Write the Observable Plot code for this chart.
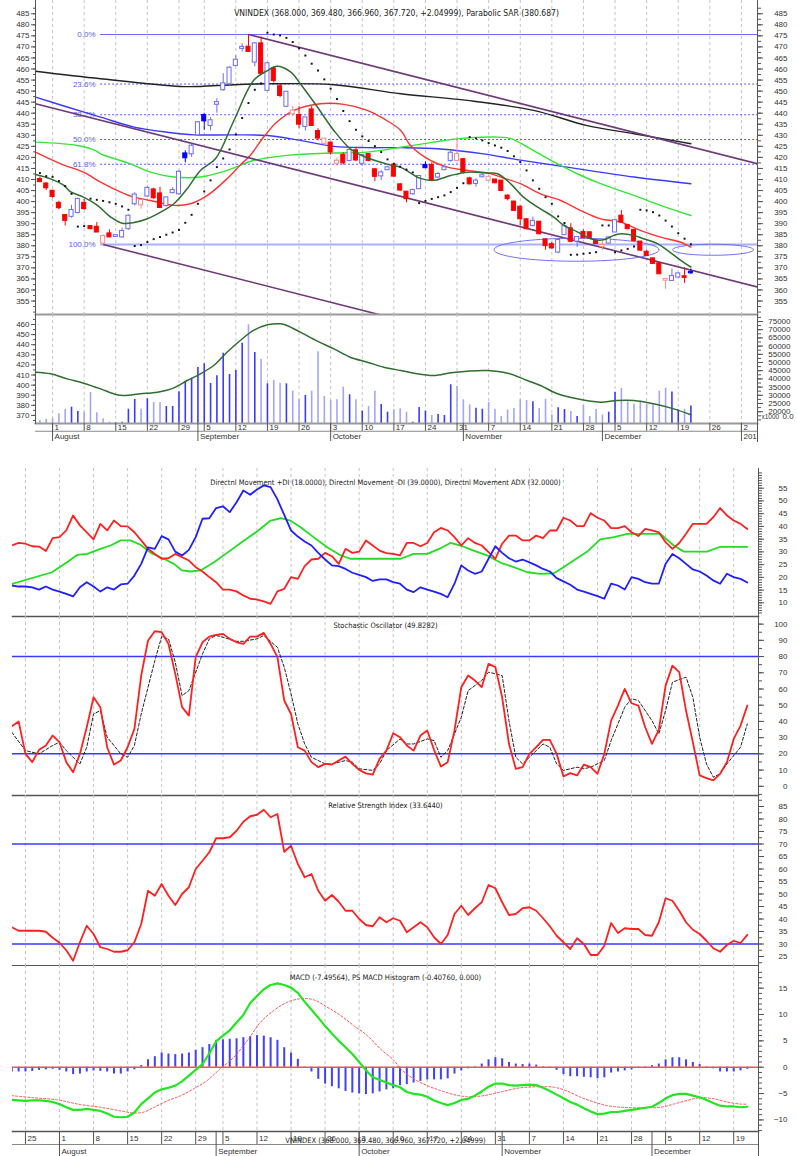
<!DOCTYPE html>
<html><head><meta charset="utf-8">
<script src="https://cdn.jsdelivr.net/npm/d3@7"></script>
<script src="https://cdn.jsdelivr.net/npm/@observablehq/plot@0.6"></script>
<style>
body{margin:0;background:#fff;}
#wrap{position:relative;width:797px;height:1156px;overflow:hidden;background:#fff;}
#wrap svg{position:absolute;left:0;}
</style></head><body><div id="wrap"></div>
<script>
// ---------- calendar (trading days, Vietnam 2011) ----------
const calStart = new Date(2011, 6, 21), calEnd = new Date(2012, 0, 6);
const holidays = ["2011-09-02"];
const fmtKey = d3.timeFormat("%Y-%m-%d");
const tradingDays = [];
for (let t = new Date(calStart); t <= calEnd; t.setDate(t.getDate() + 1)) {
  const wd = t.getDay();
  if (wd === 0 || wd === 6 || holidays.includes(fmtKey(t))) continue;
  tradingDays.push(new Date(t));
}
const weekTicks = tradingDays.map((t, d) => ({d, t})).filter(o => o.d > 0 && o.t.getDay() < tradingDays[o.d - 1].getDay())
  .map(o => ({d: o.d, label: String(o.t.getDate())}));
const monthTicks = tradingDays.map((t, d) => ({d, t})).filter(o => o.d > 0 && o.t.getMonth() !== tradingDays[o.d - 1].getMonth())
  .map(o => ({d: o.d, label: o.t.getMonth() === 0 ? String(o.t.getFullYear()) : d3.timeFormat("%B")(o.t)}));

// ---------- price data (first candle = Jul 28, 2011 = trading day 5) ----------
const firstCandleDay = 5;
const priceOpen = [410,408,404.7,399.2,393.7,393.3,395,399.2,388.7,388.4,381.2,385.4,384.2,384,387.7,399,398.5,402.5,405.3,403.5,398.2,404,403.5,421.6,421.6,430.2,439,434.4,444,450.6,453.3,461.6,469.3,469.9,463.1,471.4,450.3,460.1,452,443.1,439.7,439,434,441.5,431.7,426.2,426.5,417.3,421,418.6,423,417.3,421.3,414.4,411.6,414.4,416.5,407.6,404.3,403.5,405.8,416.4,416.4,411.1,414.4,418.6,418.6,419,410.3,408.2,411.2,409.6,409.8,409.3,402.5,399.8,397.5,391.8,389.2,390.7,382.7,380.5,377.1,385,387.7,382.1,386,385.9,382,379.6,381.2,386.2,393.4,389.2,387,381.7,377.1,374.1,371.9,364.4,364.3,365.8,366,368];
const priceHigh = [411,408.5,405,400.2,394,398.3,401.5,401,389,390.5,385,387.2,385,388,394,404,401,407,406,406.5,402,406.2,414,423,426,436,440,438,446.5,457.9,461,466,471.4,475.6,472,474.5,463,461,453,449.8,443,443,438,443,433,428.5,427,419.8,422,423.5,424.5,421,421.5,415,414,416,416.8,408,404.5,405.7,411.8,418,417.5,413.3,415.8,423,429,419.2,411,410.3,412.6,411.6,410,409.5,403,400.2,398,392.3,393,391,383,381.5,382.6,390,390,384,387.2,386.3,382.5,382.2,383.8,391.6,396,389.5,387.4,382,378.1,374.4,372.2,365,369.5,367.6,370,369.48];
const priceLow = [408.5,405,401.5,396.3,389,392.5,394.5,396,387.2,386,380.6,383.6,384,383.5,387,398,396.5,402,401,396.8,397.5,403.5,403,417.5,420,430,432.2,432,440,450,452,461,467.7,467.5,461,457,450,453.7,447,442.5,438.5,433,432,434,427.5,425.4,421,416,416.5,418,418,416,418,409,409.5,414,411,404.5,399.5,402.8,405.5,415,409.3,410.3,414,417.8,418,412.5,407.5,406.6,410.8,409.3,408,404.5,400.3,395.5,389,387.3,388.5,385,378,378.5,376.4,384.6,381.8,379.2,383.4,383.3,380.7,377.7,380.8,386,390.4,387.4,382,377.6,375.2,371.6,367,360.3,364,365.5,363,366.96];
const priceClose = [409,406.2,402.3,397.2,391.5,396,401,396.8,387.7,386.2,384.2,384,384.6,386.5,393.4,403,400.5,406,401.7,397.3,401.7,405,413.3,419.8,425.1,435.7,436.5,436.6,444.8,453.3,460.4,464,469.8,467.9,471.4,458,462.4,454.8,448,449.5,441,435,437.9,434.4,428.7,428.3,422.4,418.3,417.5,423.2,418.8,420.9,418.6,411.4,413,415.3,411.5,405.2,401.3,405,411.4,415.3,409.6,412.3,415.3,421.9,421.3,413.3,408,409.3,411.7,411,408.5,405,401.3,396,392.2,387.7,391.1,385.4,380.1,379,382.4,388.7,382,383.8,383.6,383.5,381,380.2,383.6,391.4,390.7,387.7,382.4,378,375.6,372,367.3,364.8,366.1,367.3,365.67,367.72];
const parabolicSar = [412.9,411.5,411.2,409.3,407,403.5,388.7,388.9,401.3,400.8,400.3,399.7,399,397.8,396.3,379.9,380.3,381.7,383,384,385,386,387.2,390.4,394,399,404.6,409.6,415.6,419.5,423.6,430.4,437.8,444.6,450.6,453.5,476.4,475.6,475.2,474.1,472.2,469.4,466.1,462.4,459.3,455.3,451.1,446.4,441,436.4,432.5,429.5,427.4,425.1,422.4,419.1,417.1,415.8,414.5,413.2,399.3,400.3,401.2,402,402.8,404.3,406.2,408.3,429.2,428.6,427.7,426.5,425.4,424.4,422.9,420.5,417.9,414.1,409.6,405.8,402,399,393.3,390.3,375.9,376,376.4,376.7,377.1,389.2,389.2,377.1,377.9,378.6,379.7,396.3,396,395.2,393.7,391.4,388.7,385.7,383.2,380.687];
const volume = [14600,15400,15850,18700,21340,22740,20120,19700,31700,19300,15670,13600,13300,13600,21500,27440,21500,27870,25600,25430,23170,23170,32130,38600,40430,46950,49200,37200,41900,55670,42680,45120,61770,73000,56100,51830,37000,39000,37380,37000,32500,27260,29900,32500,56500,29270,26830,27260,34940,30300,27260,20300,23170,32500,24400,19700,21150,21750,19700,13500,22560,20300,17680,18300,17680,36400,35370,27260,24200,22130,21500,25600,21500,17070,20900,21950,27260,26830,26000,21950,27500,18100,22350,21340,20120,17070,23960,17070,21340,18000,19700,31900,34150,26000,24570,26400,24570,24200,32500,34350,32000,21150,21500,23400];

// moving averages: [trading day, value]
const maShort = [[4.3,412.3],[6.7,410.3],[8.8,407.3],[9.8,404.5],[11.9,402],[14.1,398.3],[16.2,393],[18,390.2],[19.9,390.5],[22,392.2],[24.1,395.2],[26.2,399],[28.3,405.8],[30.4,414.1],[32.8,419.5],[35.7,436.7],[38.8,454.8],[41,459.3],[42.5,461.2],[44.7,458.6],[46.2,453.3],[48.9,442.8],[51.5,432.2],[54.1,423.9],[56.2,420.5],[60.5,416.5],[62.1,415.5],[65.2,410.5],[67.3,409.6],[70,411.8],[72.7,413.3],[75.8,412.9],[77.4,412.6],[79.5,408],[81.5,402],[84.2,396.7],[86.3,393],[87.9,389.2],[90.1,386.2],[92.1,383.2],[94.2,382.7],[95.8,384.7],[96.9,385.4],[98.9,384.7],[100.5,383.2],[102.7,381],[104.3,377.9],[106.4,373.4],[108,370.4]];
const maMid = [[4.3,422.4],[8.3,417.1],[11.9,413.3],[14.6,408.8],[17.8,404.3],[19.9,402],[22.5,400.5],[26.2,398.3],[28.8,399],[31.5,402.8],[34.6,410.3],[36.7,416.5],[38.3,421],[40.4,429.2],[42.5,436],[45.2,441.3],[49.4,444.3],[53.1,444],[56.8,441.3],[59.4,437.5],[62.1,432.2],[63.6,425.5],[66.8,418.6],[69.5,415.6],[72.7,414.1],[75.8,413],[77.9,411.1],[81,408.1],[84.2,403.5],[87.4,400.5],[90.5,396],[93.7,392.2],[96.9,390.7],[100,387],[103.2,383.9],[106.4,381.6],[108,379.4]];
const maLong = [[4.3,426.9],[10.9,425.4],[13.8,423.1],[14.6,421.6],[19.3,417.1],[22.5,413.3],[26.2,411.1],[30.4,411.1],[34.6,414.1],[38.8,418.6],[44.1,420.9],[51.5,422],[56.8,422.4],[62.1,424.6],[67.3,426.9],[71,428.4],[76.8,429.2],[79.5,428.5],[83.1,423.1],[86.9,417.1],[90,412.6],[93.7,408.1],[99,402.8],[103.2,398.3],[108,393.7]];
const maLonger = [[4.3,447.3],[9.3,442.8],[14.6,438.2],[19.9,433.7],[25.1,431.4],[29.4,430.2],[35.7,430.2],[41,429.9],[46.2,427.7],[51.5,425],[56.8,424.4],[62.1,424.4],[68.4,423.8],[75.2,421.6],[80.5,419],[88.4,415.6],[99,411.1],[108,408.1]];
const maLongest = [[4.3,459],[14.6,455.6],[27.2,452.1],[30.4,452.1],[35.7,452.9],[41,453.3],[51.5,452.9],[62.1,448.8],[72.6,445.8],[83.1,441.3],[91.6,434.4],[99,430.7],[108,426.2]];
const volPanelLine = [[4.3,412.8],[6.7,411.2],[9.3,406.2],[11.9,401.9],[14.6,396.3],[17,390.7],[18.3,389.7],[20.9,391.4],[23.6,393],[26.2,397.3],[28.3,404.6],[30.4,411.2],[32.5,419.4],[34.6,432.6],[36.7,444.2],[38.8,454.1],[41,459.7],[43.1,460.7],[44.1,459],[46.2,452.4],[48.9,443.5],[51.5,435.9],[54.1,427.6],[56.8,422.7],[59.4,417.7],[62.1,414.5],[64.2,411.8],[67.3,409.5],[70,412.2],[72.6,413.8],[75.8,414.5],[79,411.8],[82.1,404.6],[84.2,399.6],[86.9,391.4],[90,386.4],[93.7,383.1],[96.3,384.8],[99,384.8],[102.1,381.5],[105.3,376.5],[108,370.6]];

// analyst annotations
const fibHigh = 475.6, fibLow = 380.6, fibStartDay = 14.6;
const fibPercents = [0, 23.6, 38.2, 50, 61.8, 100];
const channelLines = [
  {d1: 38, v1: 475.6, d2: 118.6, v2: 417.1},
  {d1: 4.3, v1: 444.3, d2: 118.6, v2: 361.3},
  {d1: 15, v1: 380.6, d2: 60, v2: 347.9}
];
const ellipses = [{d: 89.9, v: 378.2, rd: 13.05, rv: 5.2}, {d: 111.5, v: 378.2, rd: 6.4, rv: 2.5}];

// ---------- indicator data (trading day 0 = Jul 21, 2011) ----------
const diPlus = [16.8,16.4,16.4,16.1,15.2,16.4,15.2,14.4,13.5,12.5,16.1,18.1,16.4,14.4,16.1,15.2,17.2,17.5,20.7,25.3,31.8,31.2,36.2,34.9,30.1,28.6,30.8,35.8,43,43.2,47.2,47.9,45.6,49.5,54.1,52.4,54.5,56.1,55.4,50.6,44.5,38.4,36,34.1,32.5,29.6,27,24.7,24.4,23.3,21.8,21,20.1,18.6,19.2,19.2,18.1,17.5,
  15.2,14.2,16.1,15.2,14.4,13.5,12.2,17.5,24.7,22.7,21.4,22.3,27.3,32.2,29.6,27.5,26.2,27,25.9,24.7,23.3,22.3,19.7,18.4,17.1,15.2,14.4,13.5,12.6,11.6,17.5,16.8,15.2,20.1,19.4,18.1,17.5,17.5,25.3,29.2,27.5,25.3,23.1,22.3,20.7,18.8,17.5,21.4,20.1,19.4,18];
const diMinus = [32.5,33.5,33.2,32.2,32.1,30.3,35.4,35.8,38.4,44.3,40.4,37.7,34.9,41,38.4,42.3,40.1,40,37.7,34.5,31.2,29.2,27.3,27.5,29.2,27.9,26.6,24,22.3,20.1,18.1,15.2,15.2,14.5,12.9,11.6,11.3,10.6,9.6,14.5,15.5,20.1,19.4,24.4,27,27.3,29.6,28.3,25.3,31.2,29.6,30.1,34.5,32.5,30.5,29.5,29.2,28.6,
  33.5,33.5,32.2,33.5,37.7,39.4,38.4,35.8,32.5,35.4,33.5,32.5,29.9,27.3,33.2,36.4,36.4,34.5,34.5,36.4,35.4,38.4,38.4,43.4,42.3,40.1,40.1,45.2,43.4,42.3,39.3,39.3,40.1,37.7,36.2,39,38.4,37.7,33.8,31.2,33.5,37.1,41,41,41,43.6,47.2,44.3,42.3,41,39];
const adx = [[0,17.4],[5.9,22],[8.1,25.9],[9.6,28.8],[11.1,29.2],[13,31.2],[14.5,32.5],[16,34.5],[17.4,34.5],[18.9,32.8],[20.4,29.6],[22.3,27.3],[23.8,25.3],[25,22.7],[26.2,22.3],[27.7,22.7],[29.7,25.9],[31.6,29.6],[33.6,33.5],[36,38],[38,42.3],[39.5,43.2],[40.9,42.3],[42.4,39.7],[44.3,35.8],[46.3,31.8],[48.3,28.6],[49.7,27.3],[52.2,27.3],[57.1,27.3],[59,29.2],[61,29.2],[63,31.5],[64.4,33.5],[65.9,32.5],[67.8,30.5],[69.8,28.6],[71.8,25.7],[73.7,24],[75.7,22],[77.6,21.4],[79.6,21.6],[81,24],[82.5,26.6],[84.5,30.1],[86.4,34.9],[88.4,35.8],[90.4,37.1],[92.8,37.1],[95.2,37.1],[97.2,32.5],[98.7,30.1],[101.1,30.1],[102.1,30.1],[104,32],[108,32]];
const stochK = [37,40,20,14.9,22.5,25.2,31.3,27.2,14.9,8.7,20,36.4,54.9,48.7,24.1,13.4,15.9,24.1,35.4,68.3,89.9,95.6,95,87.8,69.3,48.8,43.6,79.6,88.8,92.3,93.3,94,90.9,88.8,87.8,92.3,92.3,94.6,87.8,79.6,52.9,44.6,24.1,22,14.9,11.8,13.8,13.4,15.9,18.3,13.8,10.1,8,7.2,16.9,22,32.7,30.3,25.2,22,31.3,34.4,22.5,12.2,14.9,34.4,61.1,68.3,65.2,61.1,75.5,73.5,54.9,26.2,10.8,11.8,20,24.1,28.6,28.6,20,6.1,8.1,6.7,13.4,11.8,7.7,20,40.5,49.8,60.1,51.2,49.8,36.4,26.2,34.8,62.1,74.4,70.4,46.7,27.2,6.7,5,3.6,7.7,14.9,29.2,37.4,49.83];
const stochD = [[0,33.3],[2,22],[4,20],[6,25.2],[7,27.2],[8,22],[10,13.8],[11,24.1],[12,44.6],[13,46.7],[14,30.3],[16,20],[17,17.9],[18,25.2],[19,44.6],[21,77.5],[22,92.3],[23,90.9],[24,76.5],[25,55.9],[26,59],[28,81.6],[29,90.9],[30,93],[31,91.9],[33,89.4],[34,89.4],[36,90.9],[37,93],[39,85.7],[40,73.4],[41,57],[42,38.5],[43,26.2],[44,17.9],[46,13.8],[47,13.8],[49,15.9],[50,14.9],[51,10.8],[53,9.8],[54,13.8],[55,22],[57,29.2],[58,26.1],[59,26.1],[61,29.2],[62,28.2],[63,17.9],[64,22],[66,42.6],[67,59],[69,65.2],[70,70.4],[72,68.3],[73,40.5],[74,17.9],[75,13.8],[77,22],[78,26.1],[79,24.1],[80,13.8],[81,9.8],[83,11.8],[84,10.8],[85,11.8],[87,15.9],[88,28.2],[90,48.8],[91,54],[92,52.9],[94,40.5],[95,32.3],[96,46.7],[97,64.2],[99,67.3],[100,54.9],[101,30.3],[102,13.8],[103,5.6],[104,7.7],[105,13.8],[107,24.1],[108,38.5]];
const rsi = [36.7,35.3,35.3,35.3,35.3,34.9,32.5,30.5,27.5,23.3,30.7,37.3,34,28.7,28,26.9,26.9,27.5,30.7,38,51.3,49.3,54,49.3,45.6,50,52.7,60,63.3,66.7,72.3,72.3,72.7,75.3,78.9,81.1,81.7,83.7,80.7,82,66.9,69.3,62,56.7,58,51.3,47.3,49.6,46.9,43.3,43.3,40,37.6,37.1,40.7,38.7,40.3,39.3,34.7,36.7,38.7,36.7,32.7,30,33.6,42,45.3,41.6,44.3,46.7,53.6,52.3,46.7,41.6,42,44.3,44.7,43.3,40.3,37.1,33.3,30.7,28,32.3,30,25.6,25.6,29.3,38.4,34.4,36.3,36,36,33.6,33.3,38.7,48.3,47.3,43.3,38.7,35.7,34,31.3,28.3,26.9,29.6,31.3,30.4,33.64];
const macd = [-6.2,-6.3,-6.4,-6.3,-6.3,-6.4,-6.6,-7,-7.6,-8.1,-8.1,-7.9,-8.1,-8.3,-8.8,-9.4,-9.5,-9.4,-8.6,-7,-5.9,-4.8,-4.2,-3.9,-3.5,-2.7,-1.6,-0.5,0.6,2.6,4.9,6,7,8.5,9.9,12.2,13.5,14.8,15.6,15.9,15.6,15.1,14.1,12.4,10.9,9.4,7.8,6.4,5,3.8,2.5,1,-0.6,-1.9,-2.4,-2.9,-3.4,-3.8,-4.7,-5.05,-5.2,-5.6,-6.3,-6.8,-7.2,-6.8,-6.2,-6,-5.4,-4.6,-3.7,-3.1,-3.1,-3.4,-3.5,-3.4,-3.3,-3.4,-3.9,-4.5,-5.2,-5.9,-6.6,-7.1,-7.8,-8.4,-8.9,-8.8,-8.5,-8.5,-8.3,-8.1,-7.9,-7.7,-7.5,-6.8,-5.9,-5.3,-5.05,-5.05,-5.4,-5.7,-6.2,-6.8,-7.3,-7.45,-7.45,-7.6,-7.5];
const macdSignal = [[0,-5.4],[3.2,-5.8],[6.7,-6.2],[10.1,-7.1],[13,-7.6],[16,-8.3],[17.9,-8.7],[19.4,-8.5],[20.9,-7.6],[22.8,-6.4],[24.8,-5.4],[26.7,-4.1],[28.7,-2.5],[30.6,-0.3],[32.6,1.9],[34.6,5.1],[36.5,8.5],[38.5,10.8],[40.4,12.3],[42.4,13],[44.3,12.8],[46.3,11.4],[48.3,9.8],[50.2,7.9],[52.2,6],[54.1,3.5],[56.1,1.3],[57.1,-0.3],[59,-2.2],[61,-3.5],[62.9,-4.4],[64.9,-5.2],[66.9,-5.6],[69.3,-5.4],[71.8,-4.7],[74.7,-3.9],[77.6,-3.7],[79.6,-3.8],[81.5,-4.5],[83.5,-5.7],[85.5,-6.6],[87.4,-7.3],[89.4,-7.6],[91.3,-7.7],[93.3,-7.7],[95.3,-7.6],[97.2,-7],[99.2,-6.3],[101.1,-5.8],[103.1,-6],[105,-6.6],[107,-7],[108,-7]];
const macdHist = [-0.9,-0.9,-0.9,-0.8,-0.6,-0.5,-0.4,-0.6,-0.9,-1.4,-1.3,-0.9,-0.7,-0.8,-0.9,-1.3,-1.3,-0.9,-0.5,0.3,1.4,2,2.7,2.5,2.4,2.5,2.7,3.2,3.7,4.3,5.1,5.2,5.3,5.4,5.6,5.8,6,5.9,5.6,5.1,3.7,2.7,1.5,-0.1,-0.9,-2.3,-3.2,-3.7,-4.1,-4.6,-4.9,-5.05,-5.2,-5.05,-4.7,-4.3,-4.1,-3.5,
  -3.3,-3,-2.7,-2.4,-2.4,-2.4,-2.2,-1.3,-0.7,-0.3,0.1,0.6,1.4,1.8,1.6,0.9,0.6,0.5,0.6,0.4,0.1,-0.1,-0.6,-1.4,-1.8,-1.8,-1.9,-2,-2.2,-2,-1.1,-0.9,-0.7,-0.5,-0.1,0.1,0.3,0.6,1.4,1.8,1.8,1.4,0.9,0.5,0.1,-0.3,-0.9,-0.9,-0.9,-0.7,-0.41];

// tick label sets
const priceTicks = d3.range(355, 486, 5);
const volTicks = d3.range(20000, 75001, 5000);
const volLeftTicks = d3.range(370, 461, 10);
const dmiTicks = d3.range(10, 56, 5);
const stochTicks = d3.range(0, 101, 10);
const rsiTicks = d3.range(25, 86, 5);
const macdTicks = d3.range(-10, 16, 5);

// texts
const priceTitle = "VNINDEX (368.000, 369.480, 366.960, 367.720, +2.04999), Parabolic SAR (380.687)";
const dmiTitle = "Directnl Movement +DI (18.0000), Directnl Movement -DI (39.0000), Directnl Movement ADX (32.0000)";
const stochTitle = "Stochastic Oscillator (49.8282)";
const rsiTitle = "Relative Strength Index (33.6440)";
const macdTitle = "MACD (-7.49564), PS MACD Histogram (-0.40760, 0.000)";
const overlapTitle = "VNINDEX (368.000, 369.480, 366.960, 367.720, +2.04999)";
const volUnit = "x1000", volZero = "0.0";

// ---------- helpers ----------
const FONT = "'Liberation Sans', Arial, sans-serif";
const NARROW = "'Liberation Sans Narrow', 'DejaVu Sans Condensed', 'Liberation Sans', sans-serif";
const wrap = document.getElementById("wrap");
const TOPX = {domain: [4.3, 118.54], ml: 35, mr: 40};
const BOTX = {domain: [0.1, 109.64], ml: 12, mr: 39};
function panel(top, height, xs, ydom, marks) {
  const svg = Plot.plot({
    width: 797, height, marginLeft: xs.ml, marginRight: xs.mr, marginTop: 0, marginBottom: 0,
    x: {domain: xs.domain, axis: null, label: null},
    y: {domain: ydom, axis: null, label: null},
    style: {background: "transparent", fontFamily: FONT, fontSize: "8px", color: "#333", overflow: "visible"},
    marks
  });
  svg.style.top = top + "px";
  wrap.appendChild(svg);
  return svg;
}
const grid = () => Plot.ruleX(weekTicks, {x: "d", stroke: "#c4c4c4", strokeDasharray: "3,3", strokeWidth: 1, clip: true});
const axisR = (ticks, minor, pad) => [
  Plot.axisY({anchor: "right", ticks: minor, tickSize: 3, tickFormat: () => "", stroke: "#555", label: null}),
  Plot.axisY({anchor: "right", ticks, tickSize: 5, tickPadding: pad, tickFormat: d3.format("d"), textAnchor: "end", fontSize: 8, fill: "#333", stroke: "#555", label: null})
];
const axisL = (ticks, minor) => [
  Plot.axisY({anchor: "left", ticks: minor, tickSize: 2, tickFormat: () => "", stroke: "#555", label: null}),
  Plot.axisY({anchor: "left", ticks, tickSize: 4, tickPadding: 2, tickFormat: d3.format("d"), fontSize: 8, fill: "#333", stroke: "#555", label: null})
];
const pairs = arr => arr.map(p => ({d: p[0], v: p[1]}));
const daily = (arr, start = 0) => arr.map((v, k) => ({d: k + start, v}));
const title = (t, dy, size) => Plot.text([t], {frameAnchor: "top", dy, text: d => d, lineAnchor: "middle", fontFamily: NARROW, fontSize: size, fill: "#222"});

// ---------- candles ----------
const candles = priceOpen.map((o, i) => {
  const c = priceClose[i];
  const up = i === 0 ? c >= o : c >= priceClose[i - 1];
  const hollow = c >= o;
  const col = up ? (hollow ? "#6b6bff" : "#0000ff") : (hollow ? "#ff8a8a" : "#ff0000");
  return {d: i + firstCandleDay, o, h: priceHigh[i], l: priceLow[i], c, up, col, fill: hollow ? "#ffffff" : col};
});
const fib = fibPercents.map(p => ({p, v: fibHigh - (fibHigh - fibLow) * p / 100, label: p.toFixed(1) + "%"}));
const ellipsePts = ellipses.flatMap((e, k) => d3.range(0, 361, 4).map(a => ({k, d: e.d + e.rd * Math.cos(a * Math.PI / 180), v: e.v + e.rv * Math.sin(a * Math.PI / 180)})));

// ---------- top chart: price panel ----------
panel(0, 314, TOPX, [348.9, 491.0], [
  grid(),
  Plot.ruleY(fib.filter(f => f.p !== 0 && f.p !== 100), {y: "v", x1: fibStartDay, x2: TOPX.domain[1], stroke: "#5a5aff", strokeDasharray: "2,2", strokeWidth: 1}),
  Plot.ruleY(fib.filter(f => f.p === 0), {y: "v", x1: fibStartDay, x2: TOPX.domain[1], stroke: "#6a6aff", strokeWidth: 1}),
  Plot.ruleY(fib.filter(f => f.p === 100), {y: "v", x1: fibStartDay, x2: TOPX.domain[1], stroke: "#aab0ff", strokeWidth: 2}),
  Plot.text(fib, {x: fibStartDay, y: "v", text: "label", textAnchor: "end", dx: -5, fill: "#5a5aff", fontSize: 8}),
  Plot.line(pairs(maLongest), {x: "d", y: "v", stroke: "#222222", strokeWidth: 1.4, curve: "catmull-rom"}),
  Plot.line(pairs(maLonger), {x: "d", y: "v", stroke: "#3a3aff", strokeWidth: 1.4, curve: "catmull-rom"}),
  Plot.line(pairs(maLong), {x: "d", y: "v", stroke: "#33e633", strokeWidth: 1.4, curve: "catmull-rom"}),
  Plot.line(pairs(maMid), {x: "d", y: "v", stroke: "#ff3333", strokeWidth: 1.4, curve: "catmull-rom"}),
  Plot.link(channelLines, {x1: "d1", y1: "v1", x2: "d2", y2: "v2", stroke: "#6e3a78", strokeWidth: 1.6, clip: true}),
  Plot.line(ellipsePts, {x: "d", y: "v", z: "k", stroke: "#6f6fff", strokeWidth: 1, clip: true}),
  Plot.ruleX(candles, {x: "d", y1: "l", y2: "h", stroke: "col", strokeWidth: 1}),
  Plot.rect(candles, {x1: c => c.d - 0.32, x2: c => c.d + 0.32, y1: c => Math.min(c.o, c.c) - 0.2, y2: c => Math.max(c.o, c.c) + 0.2, fill: "fill", stroke: "col", strokeWidth: 1}),
  Plot.line(pairs(maShort), {x: "d", y: "v", stroke: "#2f6e2f", strokeWidth: 1.5, curve: "catmull-rom"}),
  Plot.dot(daily(parabolicSar, firstCandleDay), {x: "d", y: "v", r: 1.1, symbol: "square", fill: "#111", stroke: null}),
  title(priceTitle, 13, 8.5),
  ...axisL(priceTicks, d3.range(350, 490, 2.5)),
  ...axisR(priceTicks, d3.range(350, 490, 2.5), 25),
  Plot.frame({anchor: "left", stroke: "#555"}),
  Plot.frame({anchor: "right", stroke: "#555"}),
  Plot.frame({anchor: "bottom", stroke: "#9a9a9a", strokeWidth: 2})
]);

// ---------- top chart: volume panel ----------
panel(314, 109, TOPX, [12805, 79268], [
  grid(),
  Plot.ruleX(volume.map((v, i) => ({d: i + firstCandleDay, v, col: candles[i].up ? "#3a3aff" : "#a4a4ff"})), {x: "d", y: "v", stroke: "col", strokeWidth: 1.6, clip: true}),
  ...axisR(volTicks, d3.range(15000, 78000, 2500), 28),
  Plot.text([volUnit], {frameAnchor: "bottom-right", dx: 4, dy: -5, text: d => d, textAnchor: "start", fontSize: 6.5, fill: "#333"}),
  Plot.text([volZero], {frameAnchor: "bottom-right", dx: 25, dy: -5, text: d => d, textAnchor: "start", fontSize: 8, fill: "#333"}),
  Plot.frame({anchor: "right", stroke: "#555"}),
  Plot.frame({anchor: "bottom", stroke: "#9a9a9a", strokeWidth: 2})
]);
panel(314, 109, TOPX, [362, 469.9], [
  Plot.line(pairs(volPanelLine), {x: "d", y: "v", stroke: "#2f6e2f", strokeWidth: 1.5, curve: "catmull-rom"}),
  ...axisL(volLeftTicks, d3.range(365, 466, 5)),
  Plot.frame({anchor: "left", stroke: "#555"})
]);

// ---------- date axes ----------
function dateAxis(top, height, xs, split, dayY, monY, extra) {
  const inside = t => t.d <= xs.domain[1] + 2;
  const svg = Plot.plot({
    width: 797, height, marginLeft: xs.ml, marginRight: xs.mr, marginTop: 0, marginBottom: 0,
    x: {domain: xs.domain, axis: null, label: null},
    y: {domain: [0, 1], range: [0, height], axis: null, label: null},
    style: {background: "transparent", fontFamily: FONT, fontSize: "8px", color: "#333", overflow: "visible"},
    marks: [
      Plot.ruleY([split], {stroke: "#888", strokeWidth: 1}),
      Plot.ruleX(weekTicks.filter(inside), {x: "d", y1: 0, y2: split, stroke: "#555", clip: true}),
      Plot.ruleX(monthTicks.filter(inside), {x: "d", y1: 0, y2: 1, stroke: "#555", clip: true}),
      Plot.text(weekTicks.filter(inside), {x: "d", y: dayY, text: "label", textAnchor: "start", dx: 2, fontSize: 8, fill: "#333", clip: true}),
      Plot.text(monthTicks.filter(inside), {x: "d", y: monY, text: "label", textAnchor: "start", dx: 2, fontSize: 8, fill: "#333", clip: true}),
      Plot.frame({anchor: "right", stroke: "#555"}),
      ...(extra || [])
    ]
  });
  svg.style.top = top + "px";
  wrap.appendChild(svg);
}
dateAxis(423, 18, TOPX, 0.43, 0.24, 0.72);

// ---------- bottom chart ----------
panel(468, 148, BOTX, [4.63, 62.73], [
  grid(),
  Plot.line(pairs(adx), {x: "d", y: "v", stroke: "#22dd22", strokeWidth: 1.8, clip: true}),
  Plot.line(daily(diMinus), {x: "d", y: "v", stroke: "#ff2020", strokeWidth: 1.8, clip: true}),
  Plot.line(daily(diPlus), {x: "d", y: "v", stroke: "#2020ff", strokeWidth: 1.8, clip: true}),
  title(dmiTitle, 14, 7.5),
  ...axisR(dmiTicks, d3.range(6, 62, 1), 24),
  Plot.frame({anchor: "right", stroke: "#555"}),
  Plot.frame({anchor: "bottom", stroke: "#555", strokeWidth: 1.5})
]);
panel(616, 179, BOTX, [-5.67, 104.7], [
  grid(),
  Plot.ruleY([80, 20], {stroke: "#3a3aff", strokeWidth: 1.5}),
  Plot.line(pairs(stochD), {x: "d", y: "v", stroke: "#222", strokeWidth: 1, strokeDasharray: "3,2", clip: true}),
  Plot.line(daily(stochK), {x: "d", y: "v", stroke: "#ff2020", strokeWidth: 1.8, clip: true}),
  title(stochTitle, 9, 7.5),
  ...axisR(stochTicks, d3.range(-5, 105, 5), 24),
  Plot.frame({anchor: "right", stroke: "#555"}),
  Plot.frame({anchor: "bottom", stroke: "#555", strokeWidth: 1.5})
]);
panel(795, 170, BOTX, [21.4, 89.4], [
  grid(),
  Plot.ruleY([70, 30], {stroke: "#3a3aff", strokeWidth: 1.5}),
  Plot.line(daily(rsi), {x: "d", y: "v", stroke: "#ff2020", strokeWidth: 1.8, clip: true}),
  title(rsiTitle, 10, 7.5),
  ...axisR(rsiTicks, d3.range(22.5, 89, 2.5), 24),
  Plot.frame({anchor: "right", stroke: "#555"}),
  Plot.frame({anchor: "bottom", stroke: "#555", strokeWidth: 1})
]);
panel(965, 166, BOTX, [-12.2, 19.3], [
  grid(),
  Plot.ruleX(daily(macdHist), {x: "d", y1: 0, y2: "v", stroke: "#4040ff", strokeWidth: 2, clip: true}),
  Plot.ruleY([0], {stroke: "#ff5050", strokeWidth: 1.5}),
  Plot.line(pairs(macdSignal), {x: "d", y: "v", stroke: "#ff5050", strokeWidth: 1, strokeDasharray: "2,2", curve: "catmull-rom", clip: true}),
  Plot.line(daily(macd), {x: "d", y: "v", stroke: "#22e622", strokeWidth: 2.2, clip: true}),
  title(macdTitle, 12, 7.5),
  ...axisR(macdTicks, d3.range(-12, 19, 1), 24),
  Plot.frame({anchor: "right", stroke: "#555"}),
  Plot.frame({anchor: "bottom", stroke: "#555", strokeWidth: 1.5})
]);
dateAxis(1131, 25, BOTX, 0.52, 0.27, 0.8, [
  Plot.text([overlapTitle], {frameAnchor: "top", dy: 9, lineAnchor: "middle", text: d => d, fontFamily: NARROW, fontSize: 7.5, fill: "#222"})
]);
</script></body></html>
